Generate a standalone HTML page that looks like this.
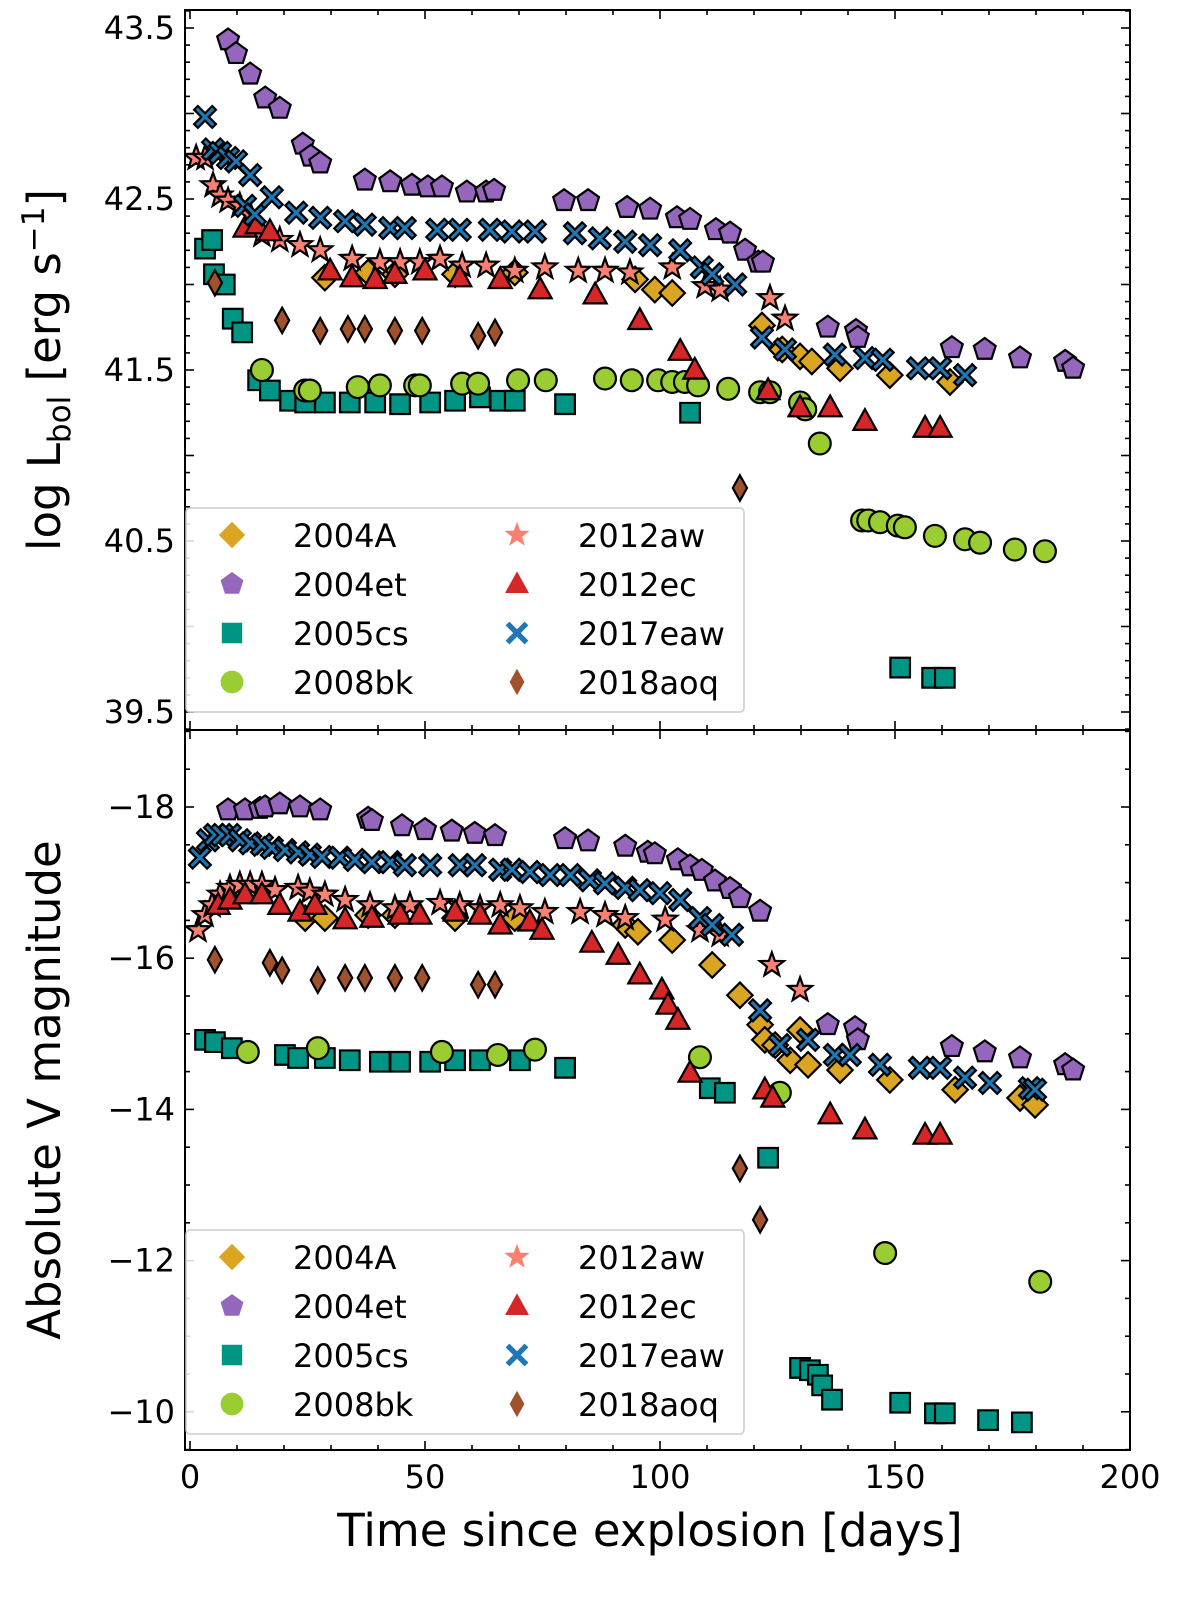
<!DOCTYPE html>
<html><head><meta charset="utf-8"><style>
body{margin:0;background:#fff}
svg text{font-family:"DejaVu Sans","Liberation Sans",sans-serif;fill:#000}
</style></head><body>
<svg id="fig" width="1200" height="1606" xmlns="http://www.w3.org/2000/svg"></svg>
<script>
// ---- data (days) ----
const top_2004A_t=[28.7,37.9,43.6,56.4,69.1,94.7,98.9,102.6,121.7,126.0,129.8,132.3,138.3,148.9,161.7];
const top_2004A_v=[42.04,42.07,42.06,42.06,42.07,42.03,41.97,41.95,41.76,41.62,41.58,41.55,41.51,41.47,41.43];
const top_2004et_t=[8.1,9.8,12.8,16.0,19.1,24.0,25.7,27.7,37.2,42.6,47.2,50.6,53.6,58.9,63.0,64.7,79.6,84.7,93.0,97.9,103.6,106.4,111.9,114.9,118.1,120.9,121.9,135.7,141.7,142.1,162.1,169.1,176.6,186.2,187.9];
const top_2004et_v=[43.43,43.35,43.23,43.09,43.03,42.82,42.75,42.71,42.61,42.60,42.58,42.57,42.57,42.54,42.54,42.55,42.49,42.49,42.45,42.44,42.39,42.38,42.32,42.30,42.20,42.13,42.13,41.75,41.73,41.69,41.63,41.62,41.57,41.55,41.51];
const top_2005cs_t=[3.2,4.7,5.1,7.4,9.1,11.1,14.5,17.0,21.3,24.5,28.7,34.0,39.4,44.7,51.1,56.4,61.7,66.0,69.1,79.8,106.4,151.1,157.9,160.6];
const top_2005cs_v=[42.21,42.26,42.06,42.00,41.80,41.72,41.44,41.38,41.32,41.31,41.31,41.31,41.31,41.30,41.31,41.32,41.34,41.32,41.32,41.30,41.25,39.76,39.70,39.70];
const top_2008bk_t=[15.3,24.5,25.5,35.7,40.4,47.9,48.9,57.9,61.3,69.8,75.7,88.3,94.0,99.6,102.6,105.3,108.1,114.5,121.3,123.4,129.8,130.9,134.0,143.0,144.3,146.8,150.6,152.1,158.5,164.9,168.1,175.5,181.9];
const top_2008bk_v=[41.50,41.38,41.38,41.40,41.41,41.41,41.41,41.42,41.42,41.44,41.44,41.45,41.44,41.44,41.43,41.43,41.41,41.39,41.37,41.37,41.31,41.27,41.07,40.62,40.62,40.61,40.59,40.58,40.53,40.51,40.49,40.45,40.44];
const top_2012aw_t=[1.3,3.2,4.9,6.4,8.1,10.6,12.8,15.3,19.1,23.4,27.7,34.5,40.4,44.7,48.9,53.2,57.9,63.0,69.1,75.5,82.6,88.3,93.6,102.6,109.6,112.8,123.4,126.6];
const top_2012aw_v=[42.74,42.74,42.58,42.52,42.49,42.46,42.41,42.29,42.26,42.23,42.20,42.15,42.13,42.13,42.13,42.15,42.11,42.11,42.08,42.10,42.08,42.08,42.07,42.10,41.99,41.97,41.92,41.80];
const top_2012ec_t=[11.7,14.3,17.0,29.8,34.5,39.4,43.6,50.0,57.4,66.0,74.5,86.2,95.7,104.3,107.4,123.0,129.8,136.2,143.6,156.4,159.6];
const top_2012ec_v=[42.33,42.35,42.31,42.08,42.04,42.03,42.06,42.08,42.04,42.03,41.97,41.94,41.79,41.61,41.50,41.38,41.28,41.28,41.20,41.16,41.16];
const top_2017eaw_t=[3.2,4.9,6.4,8.1,9.8,11.7,12.8,13.8,17.4,22.6,27.7,33.0,37.2,42.6,45.7,52.6,57.4,63.8,68.5,73.4,81.9,87.2,92.6,97.9,104.3,108.9,111.1,116.0,121.7,126.6,137.2,143.6,147.4,154.9,159.6,164.9];
const top_2017eaw_v=[42.98,42.79,42.77,42.74,42.72,42.46,42.64,42.41,42.51,42.42,42.39,42.37,42.35,42.33,42.33,42.32,42.32,42.32,42.31,42.31,42.30,42.27,42.25,42.23,42.20,42.10,42.06,42.00,41.69,41.62,41.59,41.57,41.56,41.51,41.51,41.47];
const top_2018aoq_t=[5.3,19.6,27.7,33.6,37.2,43.6,49.4,61.3,64.9,117.0];
const top_2018aoq_v=[42.01,41.79,41.73,41.74,41.74,41.73,41.73,41.70,41.72,40.81];

const bot_2004A_t=[24.5,28.7,37.9,43.6,56.4,69.1,92.6,95.3,102.6,111.1,117.0,121.3,122.3,124.5,127.7,129.8,131.5,138.3,148.9,162.8,176.6,179.8];
const bot_2004A_v=[-16.53,-16.53,-16.57,-16.57,-16.53,-16.53,-16.44,-16.35,-16.24,-15.91,-15.51,-15.12,-14.92,-14.85,-14.65,-15.05,-14.59,-14.52,-14.39,-14.26,-14.15,-14.06];
const bot_2004et_t=[8.1,11.7,14.9,16.0,19.1,23.4,27.7,37.9,38.7,45.1,50.0,55.7,60.6,64.9,79.8,84.7,92.6,97.4,98.9,103.8,106.4,108.9,111.7,114.9,117.0,121.3,135.7,141.5,142.1,162.1,169.1,176.6,186.2,187.9];
const bot_2004et_v=[-17.96,-17.96,-17.98,-18.0,-18.04,-18.0,-17.96,-17.85,-17.82,-17.75,-17.70,-17.68,-17.65,-17.62,-17.58,-17.55,-17.48,-17.40,-17.38,-17.30,-17.22,-17.16,-17.02,-16.92,-16.80,-16.62,-15.12,-15.08,-14.92,-14.83,-14.76,-14.68,-14.59,-14.52];
const bot_2005cs_t=[3.2,5.3,8.9,20.2,23.0,28.7,34.0,40.4,44.7,51.1,56.4,61.7,70.2,79.8,110.6,113.8,123.0,129.8,131.9,133.6,134.5,136.6,151.1,158.5,160.6,169.8,177.0];
const bot_2005cs_v=[-14.92,-14.89,-14.81,-14.72,-14.68,-14.68,-14.65,-14.63,-14.63,-14.63,-14.65,-14.65,-14.65,-14.55,-14.28,-14.22,-13.36,-10.58,-10.55,-10.49,-10.35,-10.16,-10.12,-9.98,-9.98,-9.89,-9.86];
const bot_2008bk_t=[12.3,27.2,53.6,65.5,73.4,108.5,125.5,147.9,180.9];
const bot_2008bk_v=[-14.76,-14.81,-14.76,-14.72,-14.79,-14.69,-14.22,-12.10,-11.72];
const bot_2012aw_t=[1.7,3.2,4.7,6.4,8.5,10.6,12.8,15.3,18.1,23.0,25.5,28.7,33.0,38.3,43.6,46.8,53.2,57.4,61.7,66.0,70.2,75.5,83.0,88.3,92.6,101.1,108.5,112.8,123.8,129.8];
const bot_2012aw_v=[-16.37,-16.57,-16.70,-16.84,-16.93,-16.97,-16.97,-16.97,-16.90,-16.93,-16.88,-16.84,-16.77,-16.70,-16.66,-16.70,-16.73,-16.70,-16.66,-16.70,-16.66,-16.61,-16.61,-16.57,-16.53,-16.51,-16.37,-16.31,-15.91,-15.58];
const bot_2012ec_t=[6.0,8.5,11.7,15.3,19.1,23.4,26.6,33.0,38.7,44.7,48.9,56.4,61.7,66.0,72.3,74.9,85.5,91.1,95.7,100.4,101.7,103.8,106.4,122.3,124.0,136.2,143.6,156.4,159.6];
const bot_2012ec_v=[-16.70,-16.77,-16.84,-16.84,-16.70,-16.61,-16.70,-16.51,-16.53,-16.57,-16.57,-16.61,-16.57,-16.44,-16.48,-16.37,-16.20,-16.04,-15.78,-15.58,-15.38,-15.18,-14.48,-14.26,-14.15,-13.93,-13.73,-13.66,-13.66];
const bot_2017eaw_t=[2.1,3.8,5.3,6.8,8.5,10.6,12.8,15.3,17.4,20.2,23.0,25.5,28.1,31.9,35.1,38.7,42.6,45.7,51.1,57.4,60.6,66.0,68.5,72.3,76.6,80.9,85.1,88.3,92.6,95.7,100.0,104.3,108.5,111.1,115.3,121.3,125.5,131.5,137.2,140.4,146.8,155.3,159.6,164.9,170.2,178.7,179.8];
const bot_2017eaw_v=[-17.33,-17.56,-17.63,-17.63,-17.63,-17.56,-17.52,-17.50,-17.46,-17.43,-17.40,-17.37,-17.34,-17.33,-17.30,-17.27,-17.27,-17.23,-17.23,-17.23,-17.23,-17.17,-17.17,-17.14,-17.10,-17.10,-17.03,-16.99,-16.93,-16.90,-16.86,-16.77,-16.53,-16.44,-16.31,-15.31,-14.85,-14.92,-14.72,-14.72,-14.59,-14.55,-14.55,-14.42,-14.35,-14.28,-14.26];
const bot_2018aoq_t=[5.3,17.0,19.6,27.2,33.0,37.2,43.6,49.4,61.3,64.9,117.0,121.3];
const bot_2018aoq_v=[-15.98,-15.94,-15.84,-15.71,-15.74,-15.74,-15.74,-15.74,-15.65,-15.65,-13.22,-12.54];

const names=['2004A','2004et','2005cs','2008bk','2012aw','2012ec','2017eaw','2018aoq'];
const colors=['#DAA520','#9467bd','#009485','#9ACD32','#FA8072','#D62728','#1f77b4','#A0522D'];
const shapes=['D','p','s','o','*','^','X','d'];
const topT=[top_2004A_t,top_2004et_t,top_2005cs_t,top_2008bk_t,top_2012aw_t,top_2012ec_t,top_2017eaw_t,top_2018aoq_t];
const topV=[top_2004A_v,top_2004et_v,top_2005cs_v,top_2008bk_v,top_2012aw_v,top_2012ec_v,top_2017eaw_v,top_2018aoq_v];
const botT=[bot_2004A_t,bot_2004et_t,bot_2005cs_t,bot_2008bk_t,bot_2012aw_t,bot_2012ec_t,bot_2017eaw_t,bot_2018aoq_t];
const botV=[bot_2004A_v,bot_2004et_v,bot_2005cs_v,bot_2008bk_v,bot_2012aw_v,bot_2012ec_v,bot_2017eaw_v,bot_2018aoq_v];
const xTicks=[0,50,100,150,200];
const topTicks=[43.5,42.5,41.5,40.5,39.5];
const botTicks=[-18,-16,-14,-12,-10];

const NS='http://www.w3.org/2000/svg';
const svg=document.getElementById('fig');
function el(tag,attrs,parent){const e=document.createElementNS(NS,tag);for(const k in attrs)e.setAttribute(k,attrs[k]);(parent||svg).appendChild(e);return e;}
const L=185,R=1130;
const xs=d=>190+d*4.7;
const ysTop=v=>28+(43.5-v)*171;
const ysBot=v=>807+(v+18)*75.6;

function shapePath(s,r){
  let pts=[];
  if(s==='D')pts=[[0,-r*1.1],[r*1.1,0],[0,r*1.1],[-r*1.1,0]];
  else if(s==='d')pts=[[0,-r*1.1],[r*0.62,0],[0,r*1.1],[-r*0.62,0]];
  else if(s==='s')pts=[[-r*.85,-r*.85],[r*.85,-r*.85],[r*.85,r*.85],[-r*.85,r*.85]];
  else if(s==='^')pts=[[0,-r*1.05],[r,r*.75],[-r,r*.75]];
  else if(s==='p'){for(let i=0;i<5;i++){const a=-Math.PI/2+i*2*Math.PI/5;pts.push([r*Math.cos(a),r*Math.sin(a)]);}}
  else if(s==='*'){for(let i=0;i<10;i++){const a=-Math.PI/2+i*Math.PI/5;const rr=i%2?r*0.45:r*1.1;pts.push([rr*Math.cos(a),rr*Math.sin(a)]);}}
  else if(s==='X'){const w=r*0.32,l=r*0.95;pts=[[w,0],[l,l-w],[l-w,l],[0,w],[-l+w,l],[-l,l-w],[-w,0],[-l,-l+w],[-l+w,-l],[0,-w],[l-w,-l],[l,-l+w]];}
  return 'M'+pts.map(p=>p[0].toFixed(1)+','+p[1].toFixed(1)).join('L')+'Z';
}
function marker(g,s,c,x,y,r){
  if(s==='o')return el('circle',{cx:x,cy:y,r:r*0.95,fill:c,stroke:'#000','stroke-width':2.2},g);
  return el('path',{d:shapePath(s,r),transform:`translate(${x},${y})`,fill:c,stroke:'#000','stroke-width':2.2,'stroke-linejoin':'miter'},g);
}

function panel(y0,y1,ys,T,V,ticks,minStep,majStep,lo,hi,tickFmt,prefix,legY){
  const frame=el('rect',{x:L,y:y0,width:R-L,height:y1-y0,fill:'none',stroke:'#000','stroke-width':2});
  
  
  const cg=el('g',{});
  
  
  const clip=el('clipPath',{id:'c'+prefix});el('rect',{x:L,y:y0,width:R-L,height:y1-y0},clip);
  cg.setAttribute('clip-path','url(#c'+prefix+')');
  for(let i=0;i<8;i++){
    const sg=el('g',{},cg);
    
    
    for(let j=0;j<T[i].length;j++){
      const m=marker(sg,shapes[i],colors[i],xs(T[i][j]),ys(V[i][j]),11.5);
      
      
    }
  }
  const tg=el('g',{stroke:'#000','stroke-width':1.6});
  
  
  for(let d=0;d<=200;d+=10){const x=xs(d);const len=d%50===0?9:5;
    el('line',{x1:x,y1:y0,x2:x,y2:y0+len},tg);el('line',{x1:x,y1:y1,x2:x,y2:y1-len},tg);}
  const n=Math.round((hi-lo)/minStep);
  for(let k=0;k<=n;k++){const v=lo+k*minStep;const y=ys(v);if(y<y0||y>y1)continue;
    const maj=Math.abs(v/majStep-Math.round(v/majStep))<1e-6;const len=maj?9:5;
    el('line',{x1:L,y1:y,x2:L+len,y2:y},tg);el('line',{x1:R,y1:y,x2:R-len,y2:y},tg);}
  for(const t of ticks){const tx=el('text',{x:L-10,y:ys(t)+11,'text-anchor':'end','font-size':32});
    tx.textContent=tickFmt(t);
    
    }
  const lg=el('g',{});
  
  
  el('rect',{x:186,y:legY,width:558,height:204,rx:4,fill:'#fff','fill-opacity':0.85,stroke:'#ccc','stroke-width':1.5},lg);
  for(let i=0;i<8;i++){const col=Math.floor(i/4),row=i%4;
    const ent=el('g',{},lg);
    
    
    const mx=232+col*285,my=legY+27+row*49;
    marker(ent,shapes[i],colors[i],mx,my,12).setAttribute('stroke','none');
    const tx=el('text',{x:293+col*285,y:my+12,'font-size':32},ent);tx.textContent=names[i];}
}
panel(10,730,ysTop,topT,topV,topTicks,0.1,0.5,39.3,43.7,t=>t.toFixed(1),'top',508);
panel(730,1450,ysBot,botT,botV,botTicks,0.5,2,-19.5,-9,t=>(t<0?'\u2212':'')+Math.abs(t),'bottom',1230);
for(const d of xTicks){const t=el('text',{x:xs(d),y:1488,'text-anchor':'middle','font-size':32});t.textContent=d;
  
  }
const xt=el('text',{x:650,y:1546,'text-anchor':'middle','font-size':45});xt.textContent='Time since explosion [days]';


const y1=el('text',{transform:'translate(60,370) rotate(-90)','text-anchor':'middle','font-size':45});
y1.innerHTML='log L<tspan font-size="31" dy="10">bol</tspan><tspan dy="-10"> [erg s</tspan><tspan font-size="31" dy="-16">\u22121</tspan><tspan dy="16">]</tspan>';


const y2=el('text',{transform:'translate(60,1090) rotate(-90)','text-anchor':'middle','font-size':45});y2.textContent='Absolute V magnitude';


</script>
</body></html>
